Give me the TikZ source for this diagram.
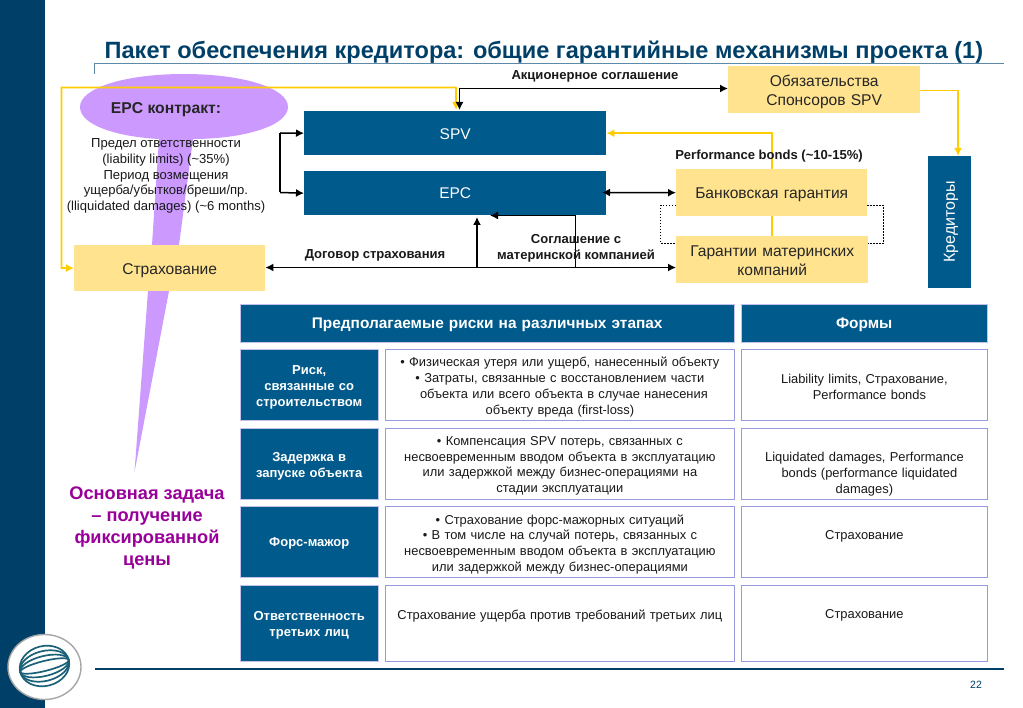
\documentclass[tikz,border=0pt]{standalone}
\usepackage{fontspec}
\setmainfont{Liberation Sans}
\usetikzlibrary{arrows.meta,shapes.geometric}
\definecolor{navy}{HTML}{004068}
\definecolor{boxblue}{HTML}{005A8C}
\definecolor{pale}{HTML}{FFE38F}
\definecolor{lilac}{HTML}{CC99FF}
\definecolor{gold}{HTML}{FFCC00}
\definecolor{edge}{HTML}{9999DD}
\definecolor{goal}{HTML}{990099}
\definecolor{rulec}{HTML}{5C8AA8}
\definecolor{logoc}{HTML}{1B6178}
\tikzset{x=1pt,y=-1pt,
 bluebox/.style={fill=boxblue,draw=none,inner sep=1pt,text=white,align=center,font=\fontsize{15.5}{18}\selectfont},
 yellowbox/.style={fill=pale,draw=none,inner sep=1pt,align=center,font=\fontsize{15.6}{19}\selectfont,text=black!85},
 riskbox/.style={fill=boxblue,draw=edge!60,line width=.4pt,inner sep=1pt,text=white,align=center,font=\bfseries\fontsize{13}{16}\selectfont},
 headbox/.style={fill=boxblue,draw=edge!60,line width=.4pt,inner sep=1pt,text=white,align=center,font=\bfseries\fontsize{15.4}{18}\selectfont},
 cellbox/.style={fill=white,draw=edge,line width=.8pt,inner sep=1pt,align=center,text=black!90,font=\fontsize{12.9}{15.8}\selectfont},
 lbl/.style={align=center,inner sep=0pt,font=\bfseries\fontsize{13.05}{16}\selectfont,text=black!90},
 blk/.style={draw=black,line width=1.5pt,-{Latex[length=8pt,width=8pt]}},
 blkb/.style={draw=black,line width=1.5pt,{Latex[length=8pt,width=8pt]}-{Latex[length=8pt,width=8pt]}},
 blkp/.style={draw=black,line width=1.5pt},
 gld/.style={draw=gold,line width=1.6pt,-{Latex[length=8pt,width=8pt]}},
 gldp/.style={draw=gold,line width=1.6pt},
 dot/.style={draw=black,line width=1pt,dash pattern=on 1.5pt off 1.5pt},
}
% [text shift]{style}{x1}{y1}{x2}{y2}{name}{text}
\newcommand{\boxat}[8][2]{%
 \node[#2,anchor=north west,minimum width=#5-#3,minimum height=#6-#4,text width=#5-#3-4pt] (#7) at (#3,#4) {};
 \node[#2,fill=none,draw=none,anchor=north west,minimum width=#5-#3,minimum height=#6-#4,text width=#5-#3-4pt] (#7t) at (#3,{#4+#1}) {#8};}
\begin{document}
\begin{tikzpicture}
\useasboundingbox (0,0) rectangle (1023,708);
\fill[white] (0,0) rectangle (1023,708);
\fill[navy] (0,0) rectangle (45,708);
% balloon
\fill[lilac] (80,107) .. controls (80,88) and (125,74) .. (184,74) .. controls (243,74) and (288,88) .. (288,107)
 .. controls (288,126) and (243,139) .. (193,139) -- (179,245) -- (169,291) -- (134.5,472) -- (148,291) -- (152,245) -- (159,139) .. controls (120,137) and (80,126) .. (80,107) -- cycle;
% title
\node[anchor=west,inner sep=0pt,text=navy,font=\bfseries\fontsize{23.55}{28}\selectfont] (title) at (104.5,52) {Пакет обеспечения кредитора: общие гарантийные механизмы проекта (1)};
\coordinate (ruleA) at (94.5,74);
\coordinate (ruleB) at (94.5,63);
\coordinate (ruleC) at (1004,63);
\draw[rulec,line width=.8pt] (ruleA) -- (ruleB) -- (ruleC);
\coordinate (footA) at (95,669);
\coordinate (footB) at (1004,669);
\draw[navy,line width=2.4pt] (footA) -- (footB);
\node[inner sep=0pt,text=navy,font=\fontsize{10.5}{12}\selectfont] (page) at (976,685) {22};
% logo
\node[ellipse,fill=white,draw=black!35,line width=1.4pt,minimum width=73pt,minimum height=65pt,inner sep=0pt] (logo) at (44.5,667) {};
\begin{scope}[shift={(44.5,666)},rotate=14,logoc,line width=1.7pt]
 \foreach \r in {5,10,15,20} {\draw (0,0) ellipse [x radius=25,y radius=\r];}
\end{scope}
% upper nodes
\boxat{yellowbox}{728}{66}{920}{113}{spons}{Обязательства\\Спонсоров SPV}
\boxat[1]{bluebox}{304}{111}{606}{155}{spv}{SPV}
\boxat[0]{bluebox}{304}{171}{606}{215}{epc}{EPC}
\boxat{yellowbox}{676}{169}{867}{216}{bank}{Банковская гарантия}
\boxat[1]{yellowbox}{676}{236}{868}{283}{parent}{Гарантии материнских\\компаний}
\boxat{yellowbox}{74}{245}{265}{291}{ins}{Страхование}
\node[fill=boxblue,anchor=north west,minimum width=43pt,minimum height=132pt,inner sep=0pt] (cred) at (928,156) {};
\node[rotate=90,text=white,inner sep=0pt,font=\fontsize{16}{18}\selectfont] (credt) at (951,222) {Кредиторы};
% coordinates
\coordinate (yA) at (456,87.5); \coordinate (yB) at (61.5,87.5); \coordinate (yC) at (61.5,268);
\coordinate (yT) at (456,110);
\coordinate (sA) at (920,90.5); \coordinate (sB) at (958,90.5);
\coordinate (bA) at (459.5,88.5); \coordinate (bB) at (459.5,110);
\coordinate (kA) at (280,133); \coordinate (kB) at (280,192.5);
\coordinate (tA) at (477,217); \coordinate (tB) at (477,267.5); \coordinate (tC) at (575.5,267.5);
\coordinate (tD) at (575.5,215.5); \coordinate (tE) at (490,215.5);
\coordinate (eI) at (602,192.5);
% yellow connectors
\draw[gld] (yA) -- (yT);
\draw[gld] (yA) -- (yB) -- (yC) -- (ins.west);
\draw[gld] (bank.north) -- (bank.north |- spv.east) -- (spv.east);
\draw[gldp] (bank.south) -- (bank.south |- parent.north);
\draw[gld] (sA) -- (sB) -- (sB |- cred.north);
% dotted
\draw[dot] (bank.west |- 0,205.5) -- (660.5,205.5) -- (660.5,243.5) -- (parent.west |- 0,243.5);
\draw[dot] (bank.east |- 0,205.5) -- (883.5,205.5) -- (883.5,243.5) -- (parent.east |- 0,243.5);
% black
\draw[blk] (bA) -- (bB);
\draw[blk] (bA) -- (spons.west |- bA);
\draw[blk] (kA) -- (spv.west);
\draw[blk] (kB) -- (epc.west);
\draw[blkp] (kA) -- (kB);
\draw[blkb] (eI) -- (bank.west);
\draw[blk] (tB) -- (ins.east |- tB);
\draw[blk] (tB) -- (tA);
\draw[blkp] (tB) -- (tC);
\draw[blkp] (tC) -- (tD);
\draw[blk] (tD) -- (tE);
\draw[blk] (tC) -- (parent.west |- tC);
% labels
\node[font=\bfseries\fontsize{15.7}{18}\selectfont,inner sep=0pt,text=black!85] (epct) at (166,110) {EPC контракт:};
\node[inner sep=0pt,align=center,font=\fontsize{13.05}{15.7}\selectfont,text=black!90] (epcd) at (166,176) {Предел ответственности\\(liability limits) (\textasciitilde35\%)\\Период возмещения\\ущерба/убытков/бреши/пр.\\(lliquidated damages) (\textasciitilde6 months)};
\node[lbl] (l1) at (595,76) {Акционерное соглашение};
\node[lbl] (l2) at (769,156) {Performance bonds (\textasciitilde10-15\%)};
\node[lbl] (l3) at (375,255) {Договор страхования};
\node[lbl] (l4) at (576,248.5) {Соглашение с\\материнской компанией};
% table
\boxat{headbox}{240}{304}{734}{342}{h1}{Предполагаемые риски на различных этапах}
\boxat{headbox}{741}{304}{987}{342}{h2}{Формы}
\boxat[2.5]{riskbox}{240}{349}{378}{420}{r1}{Риск,\\связанные со\\строительством}
\boxat[2.5]{riskbox}{240}{428}{378}{499}{r2}{Задержка в\\запуске объекта}
\boxat{riskbox}{240}{506}{378}{577}{r3}{Форс-мажор}
\boxat[2.5]{riskbox}{240}{585}{378}{661}{r4}{Ответственность\\третьих лиц}
\boxat{cellbox}{385}{349}{734}{420}{c1}{• Физическая утеря или ущерб, нанесенный объекту\\• Затраты, связанные с восстановлением части\\\hspace{8pt}объекта или всего объекта в случае нанесения\\объекту вреда (first-loss)}
\boxat{cellbox}{385}{428}{734}{499}{c2}{• Компенсация SPV потерь, связанных с\\несвоевременным вводом объекта в эксплуатацию\\или задержкой между бизнес-операциями на\\стадии эксплуатации}
\boxat[2.5]{cellbox}{385}{506}{734}{577}{c3}{• Страхование форс-мажорных ситуаций\\• В том числе на случай потерь, связанных с\\несвоевременным вводом объекта в эксплуатацию\\или задержкой между бизнес-операциями}
\node[cellbox,anchor=north west,minimum width=349pt,minimum height=76pt,text width=345pt,text depth=40.5pt,text height=33.5pt] (c4) at (385,585) {Страхование ущерба против требований третьих лиц};
\boxat{cellbox}{741}{349}{987}{420}{f1}{Liability limits, Страхование,\\\hspace{10pt}Performance bonds\\[20pt]}
\boxat[10]{cellbox}{741}{428}{987}{499}{f2}{Liquidated damages, Performance\\\hspace{10pt}bonds (performance liquidated\\damages)}
\node[cellbox,anchor=north west,minimum width=246pt,minimum height=71pt,text width=242pt,text depth=36.5pt,text height=32.5pt] (f3) at (741,506) {Страхование};
\node[cellbox,anchor=north west,minimum width=246pt,minimum height=76pt,text width=242pt,text depth=41.5pt,text height=32.5pt] (f4) at (741,585) {Страхование};
\node[inner sep=0pt,align=center,text=goal,font=\bfseries\fontsize{18.2}{22}\selectfont] (goal) at (147,528) {Основная задача\\– получение\\фиксированной\\цены};
\end{tikzpicture}
\end{document}
